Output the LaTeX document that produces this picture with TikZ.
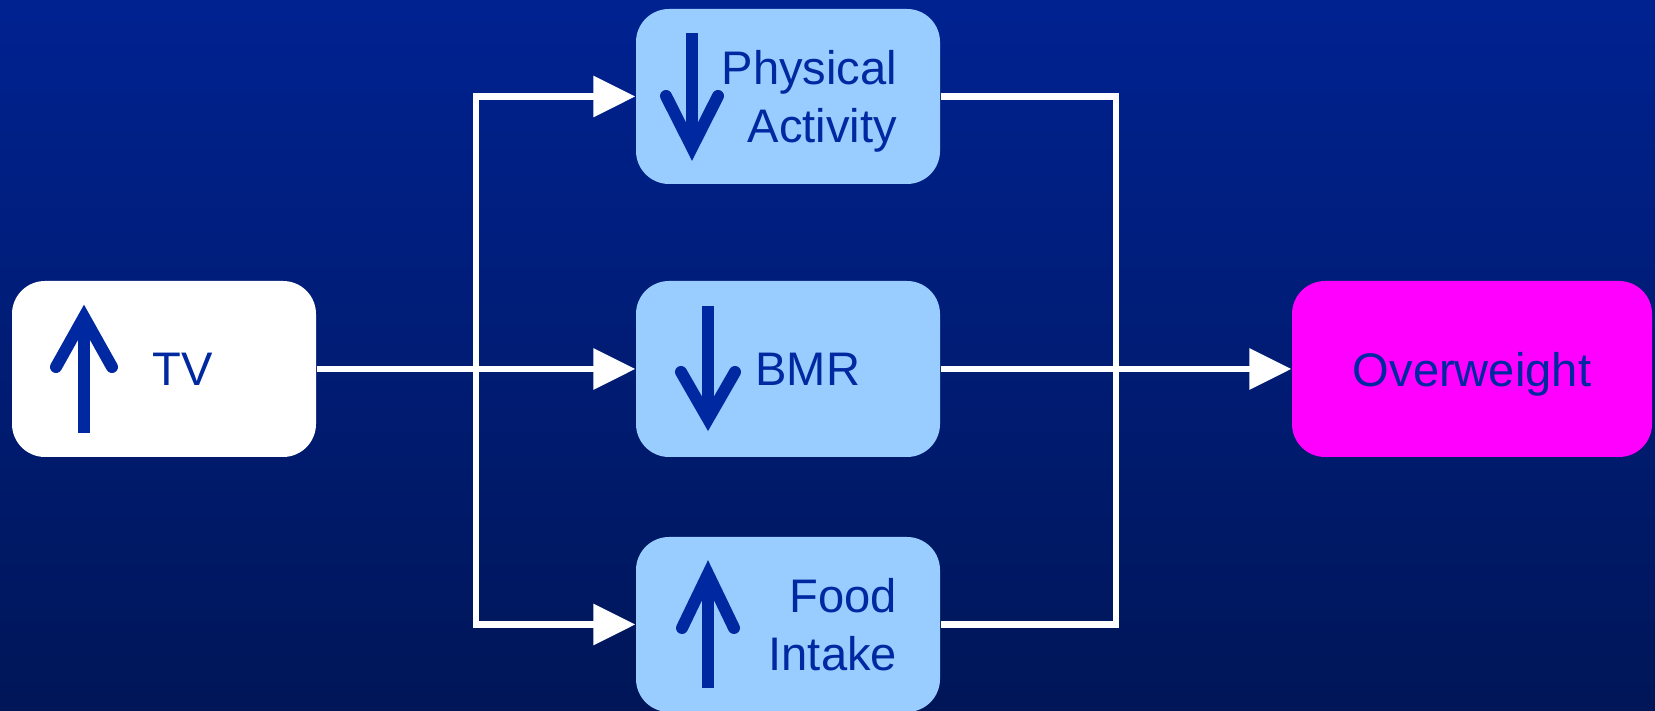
\documentclass[tikz,border=0pt]{standalone}
\usepackage{fontspec}
\setmainfont{Liberation Sans}
\definecolor{bgtop}{RGB}{0,34,145}
\definecolor{bgbot}{RGB}{0,22,88}
\definecolor{boxblue}{RGB}{153,204,255}
\definecolor{txtblue}{RGB}{0,40,160}
\definecolor{owpink}{RGB}{255,0,255}
\usetikzlibrary{arrows.meta,positioning}

\begin{document}
\begin{tikzpicture}[every node/.style={font=\fontsize{13.4}{16.5}\selectfont,text=txtblue},
    box/.style={rounded corners=0.33cm,minimum width=3.04cm,
                minimum height=1.75cm,inner sep=0pt,text depth=0pt,align=right},
    twoline/.style={text depth=0.58cm},
    wire/.style={white,line width=0.065cm},
    conn/.style={wire,-{Triangle[length=0.42cm,width=0.40cm]}},
    shaft/.style={txtblue,line width=0.12cm},
    head/.style={txtblue,line width=0.12cm,line cap=round,miter limit=10}]

  \useasboundingbox (0,0) rectangle (16.55,7.11);
  \shade[top color=bgtop,bottom color=bgbot] (0,0) rectangle (16.55,7.11);

  \node[box,fill=white,minimum height=1.76cm,text width=0.98cm] (tv) at (1.64,3.42) {TV};

  \node[box,twoline,fill=boxblue,text width=2.18cm] (pa)  at (7.88,6.145) {Physical\\Activity};
  \node[box,fill=boxblue,minimum height=1.76cm,text width=1.44cm] (bmr) at (7.88,3.42) {BMR};
  \node[box,twoline,fill=boxblue,text width=2.18cm] (fi)  at (7.88,0.865) {Food\\Intake};

  \node[box,fill=owpink,minimum width=3.60cm,minimum height=1.76cm,align=center] (ow)
        at (14.72,3.42) {Overweight};

  \coordinate (lbus) at (4.76,3.42);
  \coordinate (rbus) at (11.16,3.42);

  \draw[conn] (tv) -- (bmr);
  \draw[conn] (lbus) |- (pa);
  \draw[conn] (lbus) |- (fi);
  \draw[wire] (pa) -| (rbus) |- (fi);
  \draw[conn] (bmr) -- (ow);

  % up / down marks inside the boxes
  \draw[shaft] (0.84,2.78) -- (0.84,3.90);
  \draw[head]  (0.56,3.44) -- (0.84,3.94) -- (1.12,3.44);
  \draw[shaft] (6.92,6.78) -- (6.92,5.70);
  \draw[head]  (6.66,6.15) -- (6.92,5.635) -- (7.18,6.15);
  \draw[shaft] (7.08,4.05) -- (7.08,2.98);
  \draw[head]  (6.81,3.39) -- (7.08,2.92) -- (7.35,3.39);
  \draw[shaft] (7.08,0.23) -- (7.08,1.32);
  \draw[head]  (6.82,0.83) -- (7.08,1.37) -- (7.34,0.83);
\end{tikzpicture}
\end{document}
